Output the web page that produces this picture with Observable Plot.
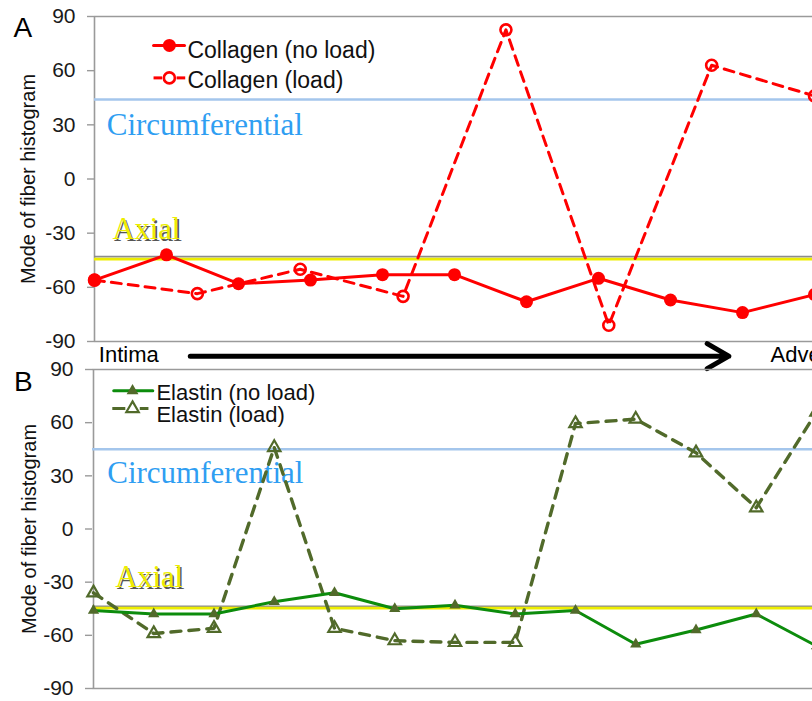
<!DOCTYPE html>
<html><head><meta charset="utf-8">
<script src="https://cdn.jsdelivr.net/npm/d3@7"></script>
<script src="https://cdn.jsdelivr.net/npm/@observablehq/plot@0.6"></script>
<style>
html,body{margin:0;padding:0;background:#fff;overflow:hidden;width:812px;height:701px;}
#chart svg{display:block;overflow:visible}
</style></head><body><div id="chart"></div>
<script>
// ---- data ----
const yTicks = [-90, -60, -30, 0, 30, 60, 90];
const collagenNoLoad = [-56, -42, -58, -56, -53, -53, -68, -55, -67, -74, -64];
const collagenLoad   = [-56, -63.5, -50, -65, 82.6, -81, 63, 46];
const elastinNoLoad  = [-46, -48, -48, -41, -36, -45, -43, -48, -46, -65, -57, -48, -66];
const elastinLoad    = [-36, -59, -56, 46, -56, -63, -64, -64, 59.5, 62, 43, 12, 66];
const guideCirc = [44, 45];          // circumferential reference (A, B)
const guideAxialGray = [-43, -43.6]; // thin grey rule (A, B)
const guideAxial = [-44.4, -44.7];   // yellow axial rule (A, B)
const seriesNames = ["Collagen (no load)", "Collagen (load)", "Elastin (no load)", "Elastin (load)"];
const axisLabel = "Mode of fiber histogram";

// x = relative depth through the wall (intima → adventitia), evenly spaced samples
const toRows = vals => vals.map((v, i) => ({x: i / (vals.length - 1), y: v}));

const sans = "Liberation Sans, Arial, sans-serif";
const serif = "Liberation Serif, Times New Roman, serif";
const grey = "#9a9a9a";
const red = "#ff0000";
const green = "#0c8c0c";
const olive = "#516a2a";
const blueLine = "#a4c6ec";
const blueText = "#2f9ef2";
const yellow = "#eded00";

function frameMarks() {
  return [
    Plot.ruleY([90, -90], {stroke: grey, strokeWidth: 1.6}),
    Plot.ruleX([0], {y1: -90, y2: 90, stroke: grey, strokeWidth: 1.6}),
    Plot.axisY(yTicks, {tickSize: 7, tickPadding: 12, fontSize: 21, stroke: grey, strokeWidth: 1.4, fill: "#1a1a1a", label: null, tickFormat: d => String(d)})
  ];
}
function guideMarks(k, circX, circY, axX, axY) {
  return [
    Plot.ruleY([guideCirc[k]], {stroke: blueLine, strokeWidth: 2.5}),
    Plot.ruleY([guideAxialGray[k]], {stroke: "#8c8c8c", strokeWidth: 1.6}),
    Plot.ruleY([guideAxial[k]], {stroke: yellow, strokeWidth: 2.8}),
    Plot.text(["Circumferential"], {x: circX, y: circY, text: d => d, fontFamily: serif, fontSize: 31, fill: blueText, textAnchor: "start", lineAnchor: "bottom"}),
    Plot.text(["Axial"], {x: axX, y: axY, text: d => d, fontFamily: serif, fontSize: 30.5, fill: "#555", textAnchor: "start", lineAnchor: "bottom", dx: 1.6, dy: 1.6}),
    Plot.text(["Axial"], {x: axX, y: axY, text: d => d, fontFamily: serif, fontSize: 30.5, fill: yellow, textAnchor: "start", lineAnchor: "bottom"})
  ];
}

// ---- Panel A ----
const cNo = toRows(collagenNoLoad), cLd = toRows(collagenLoad);
const plotA = Plot.plot({
  width: 812, height: 368,
  marginLeft: 94, marginRight: 0, marginTop: 16, marginBottom: 27,
  x: {domain: [0, 1], range: [94, 814], axis: null},
  y: {domain: [-90, 90], axis: null, label: null},
  style: {fontFamily: sans, overflow: "visible", background: "transparent"},
  marks: [
    ...frameMarks(),
    ...guideMarks(0, 0.017, 24.6, 0.025, -33.5),
    Plot.line(cLd, {x: "x", y: "y", stroke: red, strokeWidth: 3, strokeDasharray: "10,7"}),
    Plot.line(cNo, {x: "x", y: "y", stroke: red, strokeWidth: 3}),
    Plot.dot(cNo, {x: "x", y: "y", r: 6.5, fill: red}),
    Plot.dot(cLd, {x: "x", y: "y", r: 5.5, stroke: red, strokeWidth: 2.6, fill: "none"}),
    // legend
    Plot.line([[0.082, 74], [0.125, 74]], {stroke: red, strokeWidth: 3}),
    Plot.dot([[0.104, 74]], {r: 6.5, fill: red}),
    Plot.link([{a: 0.082, b: 0.094}, {a: 0.114, b: 0.126}], {x1: "a", x2: "b", y1: 56, y2: 56, stroke: red, strokeWidth: 3}),
    Plot.dot([[0.104, 56]], {r: 5.5, stroke: red, strokeWidth: 2.6, fill: "white"}),
    Plot.text([seriesNames[0]], {x: 0.129, y: 71, text: d => d, fontSize: 23, fill: "#111", textAnchor: "start", lineAnchor: "middle"}),
    Plot.text([seriesNames[1]], {x: 0.129, y: 54.5, text: d => d, fontSize: 23, fill: "#111", textAnchor: "start", lineAnchor: "middle"}),
    // panel letter and axis label
    Plot.text(["A"], {x: -0.1125, y: 78.4, text: d => d, fontSize: 28, fill: "#000", textAnchor: "start", lineAnchor: "bottom"}),
    Plot.text([axisLabel], {x: -0.0917, y: 0, text: d => d, fontSize: 20, fill: "#111", rotate: -90, textAnchor: "middle", lineAnchor: "middle"}),
    // depth annotation between panels
    Plot.text(["Intima"], {x: 0.006, y: -101.6, text: d => d, fontSize: 22, fill: "#000", textAnchor: "start", lineAnchor: "bottom"}),
    Plot.arrow([{x1: 0.133, x2: 0.881, y: -98.1}], {x1: "x1", x2: "x2", y1: "y", y2: "y", stroke: "#000", strokeWidth: 5, headLength: 7.5, headAngle: 60, strokeLinejoin: "round", strokeLinecap: "round"}),
    Plot.text(["Adventitia"], {x: 0.939, y: -101.6, text: d => d, fontSize: 22, fill: "#000", textAnchor: "start", lineAnchor: "bottom"})
  ]
});

// ---- Panel B ----
const eNo = toRows(elastinNoLoad), eLd = toRows(elastinLoad);
const plotB = Plot.plot({
  width: 812, height: 333,
  marginLeft: 92, marginRight: 0, marginTop: 1, marginBottom: 13,
  x: {domain: [0, 1], range: [93, 816], axis: null},
  y: {domain: [-90, 90], axis: null, label: null},
  style: {fontFamily: sans, overflow: "visible", background: "transparent"},
  marks: [
    ...frameMarks(),
    ...guideMarks(1, 0.019, 25.7, 0.030, -33),
    Plot.line(eLd, {x: "x", y: "y", stroke: olive, strokeWidth: 3.4, strokeDasharray: "10,8"}),
    Plot.line(eNo, {x: "x", y: "y", stroke: green, strokeWidth: 3}),
    Plot.dot(eNo, {x: "x", y: "y", r: 4.2, symbol: "triangle", fill: olive}),
    Plot.dot(eLd, {x: "x", y: "y", r: 4.6, symbol: "triangle", stroke: olive, strokeWidth: 2.2, fill: "none"}),
    // legend
    Plot.line([[0.028, 78], [0.082, 78]], {stroke: green, strokeWidth: 3}),
    Plot.dot([[0.054, 78]], {r: 4.4, symbol: "triangle", fill: olive}),
    Plot.link([{a: 0.026, b: 0.044}, {a: 0.064, b: 0.076}], {x1: "a", x2: "b", y1: 68, y2: 68, stroke: olive, strokeWidth: 3}),
    Plot.dot([[0.054, 68]], {r: 4.6, symbol: "triangle", stroke: olive, strokeWidth: 2.2, fill: "white"}),
    Plot.text([seriesNames[2]], {x: 0.087, y: 76.6, text: d => d, fontSize: 22, fill: "#111", textAnchor: "start", lineAnchor: "middle"}),
    Plot.text([seriesNames[3]], {x: 0.087, y: 64.2, text: d => d, fontSize: 22, fill: "#111", textAnchor: "start", lineAnchor: "middle"}),
    Plot.text(["B"], {x: -0.11, y: 78.1, text: d => d, fontSize: 28, fill: "#000", textAnchor: "start", lineAnchor: "bottom"}),
    Plot.text([axisLabel], {x: -0.088, y: 0, text: d => d, fontSize: 20, fill: "#111", rotate: -90, textAnchor: "middle", lineAnchor: "middle"})
  ]
});

const root = document.getElementById("chart");
root.append(plotA, plotB);
</script>
</body></html>
